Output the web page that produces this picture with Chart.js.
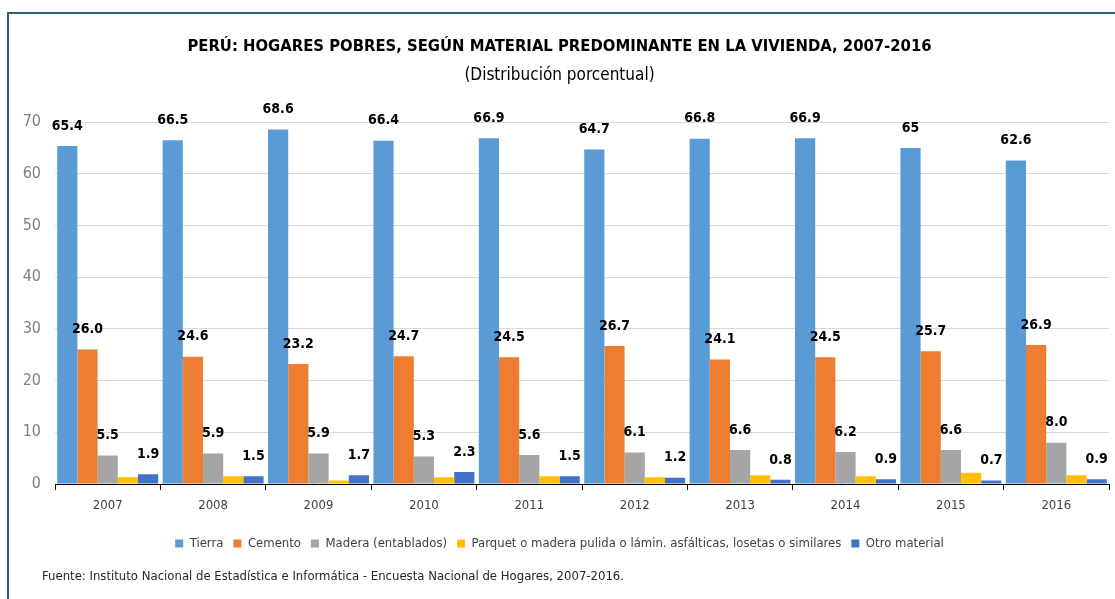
<!DOCTYPE html>
<html>
<head>
<meta charset="utf-8">
<script src="https://cdn.jsdelivr.net/npm/chart.js@4.4.1/dist/chart.umd.min.js"></script>
<style>
  html, body { margin: 0; padding: 0; background: #fff; }
  #wrap { position: relative; width: 1115px; height: 599px; }
</style>
</head>
<body>
<div id="wrap"><canvas id="barChart" width="1115" height="599"></canvas></div>
<script>
// datos
var years = ["2007", "2008", "2009", "2010", "2011", "2012", "2013", "2014", "2015", "2016"];
var tierra = [65.4, 66.5, 68.6, 66.4, 66.9, 64.7, 66.8, 66.9, 65, 62.6];
var cemento = [26.0, 24.6, 23.2, 24.7, 24.5, 26.7, 24.1, 24.5, 25.7, 26.9];
var madera = [5.5, 5.9, 5.9, 5.3, 5.6, 6.1, 6.6, 6.2, 6.6, 8.0];
var parquet = [1.3, 1.5, 0.7, 1.3, 1.5, 1.3, 1.7, 1.5, 2.2, 1.7];
var otro = [1.9, 1.5, 1.7, 2.3, 1.5, 1.2, 0.8, 0.9, 0.7, 0.9];
var yTicks = [0, 10, 20, 30, 40, 50, 60, 70];

var FONT = "'Liberation Sans Narrow', 'DejaVu Sans Condensed', 'Roboto Condensed', 'Liberation Sans', sans-serif";
var fuente = "Fuente: Instituto Nacional de Estadística e Informática - Encuesta Nacional de Hogares, 2007-2016.";

// etiquetas encima de las barras
var valueLabels = {
	id: 'valueLabels',
	afterDatasetsDraw: function(chart) {
		var ctx = chart.ctx;
		ctx.save();
		ctx.font = "bold 14px " + FONT;
		ctx.fillStyle = '#000';
		ctx.textAlign = 'center';
		ctx.textBaseline = 'middle';
		chart.data.datasets.forEach(function(ds, i) {
			if (!ds.showLabel) return;
			chart.getDatasetMeta(i).data.forEach(function(bar, j) {
				var v = ds.data[j];
				var txt = ds.fixed ? v.toFixed(1) : String(v);
				ctx.fillText(txt, bar.x, bar.y - 20);
			});
		});
		ctx.restore();
	}
};

// marco y nota de fuente
var frameAndSource = {
	id: 'frameAndSource',
	afterDraw: function(chart) {
		var ctx = chart.ctx;
		ctx.save();
		ctx.strokeStyle = '#2f5f6c';
		ctx.lineWidth = 2;
		ctx.beginPath();
		ctx.moveTo(8, 599);
		ctx.lineTo(8, 13);
		ctx.lineTo(1115, 13);
		ctx.stroke();
		ctx.font = "13px " + FONT;
		ctx.fillStyle = '#262626';
		ctx.textBaseline = 'middle';
		ctx.fillText(fuente, 42, 577);
		ctx.restore();
	}
};

var ctx = document.getElementById("barChart").getContext("2d");
var myChart = new Chart(ctx, {
	type: 'bar',
	data: {
		labels: years,
		datasets: [
			{ label: 'Tierra', data: tierra, backgroundColor: '#5b9bd5', showLabel: true, fixed: false },
			{ label: 'Cemento', data: cemento, backgroundColor: '#ed7d31', showLabel: true, fixed: true },
			{ label: 'Madera (entablados)', data: madera, backgroundColor: '#a5a5a5', showLabel: true, fixed: true },
			{ label: 'Parquet o madera pulida o lámin. asfálticas, losetas o similares', data: parquet, backgroundColor: '#ffc000', showLabel: false },
			{ label: 'Otro material', data: otro, backgroundColor: '#4472c4', showLabel: true, fixed: true }
		]
	},
	options: {
		responsive: false,
		animation: false,
		categoryPercentage: 0.958,
		barPercentage: 1,
		layout: {
			padding: { top: 14, left: 10, right: 6, bottom: 39 }
		},
		plugins: {
			title: {
				display: true,
				text: 'PERÚ: HOGARES POBRES, SEGÚN MATERIAL PREDOMINANTE EN LA VIVIENDA, 2007-2016',
				color: '#000',
				font: { family: FONT, size: 16.5, weight: 'bold' },
				padding: { top: 23, bottom: 0 }
			},
			subtitle: {
				display: true,
				text: '(Distribución porcentual)',
				color: '#000',
				font: { family: FONT, size: 17 },
				padding: { top: 9, bottom: 36 }
			},
			legend: {
				position: 'bottom',
				labels: {
					boxWidth: 8,
					boxHeight: 8,
					padding: 10,
					color: '#404040',
					font: { family: FONT, size: 13 }
				}
			},
			tooltip: { enabled: false }
		},
		scales: {
			x: {
				grid: {
					offset: true,
					drawOnChartArea: false,
					tickLength: 6,
					color: '#000'
				},
				border: { display: true, color: '#000' },
				ticks: {
					color: '#404040',
					padding: 8,
					font: { family: FONT, size: 13 }
				},
				afterFit: function(scale) { scale.height = 43; }
			},
			y: {
				min: 0,
				max: 70,
				afterBuildTicks: function(scale) {
					scale.ticks = yTicks.map(function(v) { return { value: v }; });
				},
				grid: {
					color: '#d9d9d9',
					drawTicks: false
				},
				border: { display: false },
				ticks: {
					color: '#7f7f7f',
					padding: 14,
					font: { family: FONT, size: 16 }
				},
				afterFit: function(scale) { scale.width = 45; }
			}
		}
	},
	plugins: [valueLabels, frameAndSource]
});
</script>
</body>
</html>
